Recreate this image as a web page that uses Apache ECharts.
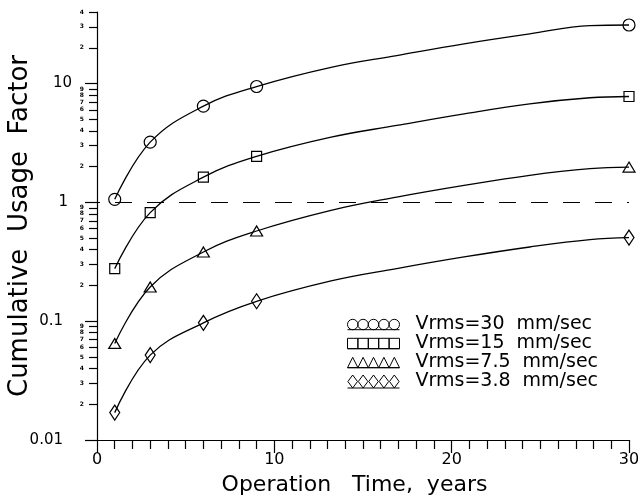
<!DOCTYPE html>
<html>
<head>
<meta charset="utf-8">
<script src="https://cdn.jsdelivr.net/npm/echarts@6/dist/echarts.min.js"></script>
<style>
html,body{margin:0;padding:0;background:#fff;}
#chart{width:638px;height:498px;}
</style>
</head>
<body>
<div id="chart"></div>
<script>
// ---- data ----
// years at which the curves were read (markers only at markedYears)
const curveYears  = [1, 3, 6, 9, 13.2, 16.9, 20.7, 24.4, 27.8, 30];
const markedYears = [1, 3, 6, 9, 30];
const vrms30 = [1.06, 3.21, 6.45, 9.44, 13.7, 17.2, 21.6, 26.2, 30.7, 31.1];
const vrms15 = [0.277, 0.82, 1.63, 2.44, 3.54, 4.44, 5.56, 6.75, 7.59, 7.78];
const vrms75 = [0.065, 0.194, 0.382, 0.574, 0.857, 1.108, 1.39, 1.69, 1.92, 1.98];
const vrms38 = [0.0170, 0.0518, 0.0968, 0.147, 0.218, 0.277, 0.347, 0.421, 0.486, 0.505];
const seriesNames = ['Vrms=30  mm/sec', 'Vrms=15  mm/sec', 'Vrms=7.5  mm/sec', 'Vrms=3.8  mm/sec'];
const xTickValues = [0, 10, 20, 30];
const yMajorTicks = [0.01, 0.1, 1, 10];
const yMinorTicks = [0.02,0.03,0.04,0.05,0.06,0.07,0.08,0.09,
                     0.2,0.3,0.4,0.5,0.6,0.7,0.8,0.9,
                     2,3,4,5,6,7,8,9,
                     20,30,40];
const referenceLevel = 1;
const axisTitles = {x: 'Operation   Time,  years', y: 'Cumulative  Usage  Factor'};

const FONT = 'DejaVu Sans';

function rep(fn){ let s=''; for(let i=0;i<5;i++) s += fn(i*10); return s; }
const iconCircle = 'path://' + rep(x => `M${x},5 A5,5 0 1 1 ${x+10},5 A5,5 0 1 1 ${x},5 Z `) + 'M0,10 L50,10';
const iconRect = 'path://' + rep(x => `M${x},0 L${x+10},0 L${x+10},10 L${x},10 Z `) + 'M0,10 L50,10';
const iconTri = 'path://' + rep(x => `M${x},10 L${x+5},0 L${x+10},10 Z `) + 'M0,10 L50,10';
const iconDia = 'path://' + rep(x => `M${x+5},0 L${x+9.6},6.25 L${x+5},12.5 L${x+0.4},6.25 Z `) + 'M0,12.5 L50,12.5';

const chart = echarts.init(document.getElementById('chart'), null, {renderer: 'canvas'});

function mkSeries(name, vals, symbol, size, extra) {
  return Object.assign({
    name: name,
    type: 'line',
    data: curveYears.map((t, i) => markedYears.indexOf(t) >= 0
      ? {value: [t, vals[i]]}
      : {value: [t, vals[i]], symbol: 'none'}),
    smooth: 0.4,
    symbol: symbol,
    symbolSize: size,
    showAllSymbol: true,
    lineStyle: {color: '#000', width: 1.3},
    itemStyle: {color: 'rgba(0,0,0,0)', borderColor: '#000', borderWidth: 1.2},
    emphasis: {disabled: true},
    z: 3
  }, extra || {});
}

const majorLabelPad = {'10': 0, '1': 4, '0.1': 9, '0.01': 9};

const option = {
  backgroundColor: '#fff',
  animation: false,
  textStyle: {fontFamily: FONT},
  grid: {left: 97, right: 9, top: 12, bottom: 58, outerBoundsMode: 'none', containLabel: false},
  legend: {
    orient: 'vertical',
    left: 347,
    top: 315,
    padding: 0,
    itemGap: 0,
    itemWidth: 52,
    itemHeight: 13,
    selectedMode: false,
    itemStyle: {color: 'rgba(0,0,0,0)', borderColor: '#000', borderWidth: 1},
    textStyle: {fontFamily: FONT, fontSize: 19, lineHeight: 19, color: '#000', padding: [0,0,0,11]},
    data: [
      {name: seriesNames[0], icon: iconCircle},
      {name: seriesNames[1], icon: iconRect},
      {name: seriesNames[2], icon: iconTri},
      {name: seriesNames[3], icon: iconDia}
    ]
  },
  xAxis: {
    type: 'value',
    min: 0, max: 30, interval: 10,
    name: axisTitles.x,
    nameLocation: 'middle',
    nameGap: 34,
    nameMoveOverlap: false,
    nameTextStyle: {fontFamily: FONT, fontSize: 22, color: '#000', padding: [0, 17, 0, 0]},
    axisLine: {show: true, onZero: false, lineStyle: {color: '#000', width: 1.2}},
    axisTick: {show: true, inside: false, length: 13, lineStyle: {color: '#000', width: 1.2}},
    minorTick: {show: true, splitNumber: 10, length: 9, lineStyle: {color: '#000', width: 1.2}},
    axisLabel: {fontFamily: FONT, fontSize: 16, color: '#000', margin: 12,
                customValues: xTickValues, showMinLabel: true, showMaxLabel: true},
    splitLine: {show: false},
    minorSplitLine: {show: false}
  },
  yAxis: [
    {
      type: 'log', logBase: 10, min: 0.01, max: 40,
      name: axisTitles.y,
      nameLocation: 'middle',
      nameRotate: 90,
      nameGap: 64,
      nameMoveOverlap: false,
      nameTextStyle: {fontFamily: FONT, fontSize: 26, color: '#000'},
      axisLine: {show: true, lineStyle: {color: '#000', width: 1.2}},
      axisTick: {show: true, inside: false, length: 12, customValues: yMajorTicks, lineStyle: {color: '#000', width: 1.2}},
      axisLabel: {
        customValues: yMajorTicks,
        margin: 25,
        fontFamily: FONT, fontSize: 15, color: '#000',
        formatter: function (v) {
          const s = (v >= 1) ? String(Math.round(v)) : (v >= 0.099 ? '0.1' : '0.01');
          return '{p' + majorLabelPad[s] + '|' + s + '}';
        },
        rich: {
          p0: {fontFamily: FONT, fontSize: 15, color: '#000', padding: [0,0,0,0]},
          p4: {fontFamily: FONT, fontSize: 15, color: '#000', padding: [0,4,0,0]},
          p9: {fontFamily: FONT, fontSize: 15, color: '#000', padding: [0,9,0,0]}
        }
      },
      splitLine: {show: false}
    },
    {
      type: 'log', logBase: 10, min: 0.01, max: 40,
      position: 'left',
      axisLine: {show: false},
      axisTick: {show: true, inside: false, length: 8, customValues: yMinorTicks, lineStyle: {color: '#000', width: 1.2}},
      axisLabel: {
        customValues: yMinorTicks,
        margin: 13,
        fontFamily: FONT, fontSize: 6, fontWeight: 'bold', color: '#000',
        formatter: function (v) {
          const p = Math.floor(Math.log10(v) + 1e-9);
          return String(Math.round(v / Math.pow(10, p)));
        }
      },
      splitLine: {show: false}
    }
  ],
  series: [
    mkSeries(seriesNames[0], vrms30, 'circle', 12, {
      markLine: {
        silent: true,
        symbol: ['none', 'none'],
        label: {show: false},
        lineStyle: {color: '#000', width: 1.2, type: [17, 15], dashOffset: 14},
        data: [{yAxis: referenceLevel}]
      }
    }),
    mkSeries(seriesNames[1], vrms15, 'rect', 10),
    mkSeries(seriesNames[2], vrms75, 'triangle', [12, 10]),
    mkSeries(seriesNames[3], vrms38, 'diamond', [10, 15])
  ]
};
chart.setOption(option);
</script>
</body>
</html>
